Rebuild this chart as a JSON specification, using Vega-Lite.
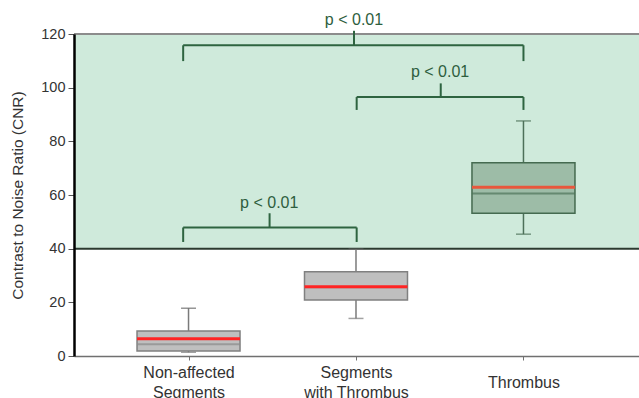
{
  "$schema": "https://vega.github.io/schema/vega-lite/v6.json",
  "width": 565,
  "height": 322,
  "autosize": {"type": "none"},
  "padding": {"left": 74, "top": 34, "right": 0, "bottom": 42},
  "config": {"view": {"stroke": null}, "font": "Liberation Sans"},
  "datasets": {
    "boxes": [
      {"group": "Non-affected Segments", "idx": 1, "min": 1.4, "q1": 1.9, "median": 4.4, "mean": 6.45, "q3": 9.3, "max": 17.8},
      {"group": "Segments with Thrombus", "idx": 2, "min": 14.0, "q1": 20.9, "median": 25.6, "mean": 25.8, "q3": 31.4, "max": 39.8},
      {"group": "Thrombus", "idx": 3, "min": 45.4, "q1": 53.2, "median": 60.6, "mean": 62.9, "q3": 72.0, "max": 87.6}
    ],
    "brackets": [
      {"x": 0.968, "x2": 3.0, "y": 115.8, "y2": 115.8},
      {"x": 0.968, "x2": 0.968, "y": 115.8, "y2": 109.9},
      {"x": 3.0, "x2": 3.0, "y": 115.8, "y2": 109.9},
      {"x": 1.988, "x2": 1.988, "y": 115.8, "y2": 121.2},
      {"x": 2.004, "x2": 3.0, "y": 96.5, "y2": 96.5},
      {"x": 2.004, "x2": 2.004, "y": 96.5, "y2": 91.7},
      {"x": 3.0, "x2": 3.0, "y": 96.5, "y2": 91.7},
      {"x": 2.506, "x2": 2.506, "y": 96.5, "y2": 101.6},
      {"x": 0.968, "x2": 2.004, "y": 47.9, "y2": 47.9},
      {"x": 0.968, "x2": 0.968, "y": 47.9, "y2": 42.5},
      {"x": 2.004, "x2": 2.004, "y": 47.9, "y2": 42.5},
      {"x": 1.484, "x2": 1.484, "y": 47.9, "y2": 53.2}
    ],
    "labels": [
      {"text": "p < 0.01", "x": 1.988, "y": 125.3},
      {"text": "p < 0.01", "x": 2.502, "y": 106.0},
      {"text": "p < 0.01", "x": 1.482, "y": 56.9}
    ],
    "band": [{"lo": 40, "hi": 120}],
    "borders": [{"y": 120, "kind": "top"}, {"y": 40, "kind": "threshold"}]
  },
  "layer": [
    {
      "data": {"name": "band"},
      "mark": {"type": "rect", "fill": "#cfeadb"},
      "encoding": {
        "y": {"field": "lo", "type": "quantitative", "title": "Contrast to Noise Ratio (CNR)"},
        "y2": {"field": "hi"}
      }
    },
    {
      "data": {"name": "borders"},
      "mark": {"type": "rule", "strokeWidth": 2},
      "encoding": {
        "y": {"field": "y", "type": "quantitative", "title": "Contrast to Noise Ratio (CNR)"},
        "color": {
          "field": "kind", "type": "nominal", "legend": null,
          "scale": {"domain": ["top", "threshold"], "range": ["#8c8c8c", "#2b3a2f"]}
        }
      }
    },
    {
      "data": {"name": "brackets"},
      "mark": {"type": "rule", "color": "#2e6440", "strokeWidth": 2},
      "encoding": {
        "x": {
          "field": "x", "type": "quantitative",
          "scale": {"domain": [0.346, 3.66], "nice": false, "zero": false},
          "axis": {
            "values": [1, 2, 3],
            "labelExpr": "datum.value == 1 ? ['Non-affected', 'Segments'] : datum.value == 2 ? ['Segments', 'with Thrombus'] : 'Thrombus'",
            "labelBaseline": "middle",
            "labelFontSize": 16,
            "labelLineHeight": 19.5,
            "labelColor": "#333333",
            "labelPadding": {"condition": {"test": "datum.value == 3", "value": 22}, "value": 12.5},
            "labelFlush": false,
            "labelOverlap": false,
            "tickSize": 4,
            "tickColor": "#707070",
            "domainColor": "#707070",
            "domainWidth": 1.5,
            "grid": false,
            "title": null,
            "zindex": 1
          }
        },
        "x2": {"field": "x2"},
        "y": {"field": "y", "type": "quantitative", "title": "Contrast to Noise Ratio (CNR)"},
        "y2": {"field": "y2"}
      }
    },
    {
      "data": {"name": "boxes"},
      "mark": {"type": "rule", "strokeWidth": 1.5},
      "encoding": {
        "x": {"field": "idx", "type": "quantitative"},
        "y": {"field": "min", "type": "quantitative", "title": "Contrast to Noise Ratio (CNR)"},
        "y2": {"field": "max"},
        "color": {"condition": {"test": "datum.group === 'Thrombus'", "value": "#4d7059"}, "value": "#7a7a7a"}
      }
    },
    {
      "data": {"name": "boxes"},
      "mark": {"type": "tick", "orient": "horizontal", "size": 15, "thickness": 1.5},
      "encoding": {
        "x": {"field": "idx", "type": "quantitative"},
        "y": {"field": "min", "type": "quantitative", "title": "Contrast to Noise Ratio (CNR)"},
        "color": {"condition": {"test": "datum.group === 'Thrombus'", "value": "#4d7059"}, "value": "#7a7a7a"}
      }
    },
    {
      "data": {"name": "boxes"},
      "mark": {"type": "tick", "orient": "horizontal", "size": 15, "thickness": 1.5},
      "encoding": {
        "x": {"field": "idx", "type": "quantitative"},
        "y": {"field": "max", "type": "quantitative", "title": "Contrast to Noise Ratio (CNR)"},
        "color": {"condition": {"test": "datum.group === 'Thrombus'", "value": "#4d7059"}, "value": "#6a6a6a"}
      }
    },
    {
      "data": {"name": "boxes"},
      "mark": {"type": "bar", "size": 103, "strokeWidth": 1.5},
      "encoding": {
        "x": {"field": "idx", "type": "quantitative"},
        "y": {
          "field": "q1", "type": "quantitative",
          "scale": {"domain": [0, 120], "nice": false, "zero": true},
          "title": "Contrast to Noise Ratio (CNR)",
          "axis": {
            "values": [0, 20, 40, 60, 80, 100, 120],
            "grid": false,
            "labelFontSize": 14.5,
            "labelColor": "#333333",
            "labelPadding": 3,
            "tickSize": 6,
            "tickColor": "#555555",
            "domainColor": "#000000",
            "domainWidth": 2.5,
            "title": "Contrast to Noise Ratio (CNR)",
            "titleFontSize": 15.5,
            "titleFontWeight": "normal",
            "titleColor": "#333333",
            "titlePadding": 15,
            "zindex": 1
          }
        },
        "y2": {"field": "q3"},
        "fill": {"condition": {"test": "datum.group === 'Thrombus'", "value": "#9dbca7"}, "value": "#bfbfbf"},
        "stroke": {"condition": {"test": "datum.group === 'Thrombus'", "value": "#456a50"}, "value": "#808080"}
      }
    },
    {
      "data": {"name": "boxes"},
      "mark": {"type": "tick", "orient": "horizontal", "size": 103, "thickness": 2},
      "encoding": {
        "x": {"field": "idx", "type": "quantitative"},
        "y": {"field": "median", "type": "quantitative", "title": "Contrast to Noise Ratio (CNR)"},
        "color": {"condition": {"test": "datum.group === 'Thrombus'", "value": "#4d7358"}, "value": "#8a8a8a"}
      }
    },
    {
      "data": {"name": "boxes"},
      "mark": {"type": "tick", "orient": "horizontal", "size": 103, "thickness": 3, "opacity": 1},
      "encoding": {
        "x": {"field": "idx", "type": "quantitative"},
        "y": {"field": "mean", "type": "quantitative", "title": "Contrast to Noise Ratio (CNR)"},
        "color": {"condition": {"test": "datum.group === 'Thrombus'", "value": "#e8573d"}, "value": "#ff2424"}
      }
    },
    {
      "data": {"name": "labels"},
      "mark": {"type": "text", "fontSize": 16, "color": "#2e5e3e", "baseline": "middle", "align": "center"},
      "encoding": {
        "x": {"field": "x", "type": "quantitative"},
        "y": {"field": "y", "type": "quantitative", "title": "Contrast to Noise Ratio (CNR)"},
        "text": {"field": "text"}
      }
    }
  ]
}
